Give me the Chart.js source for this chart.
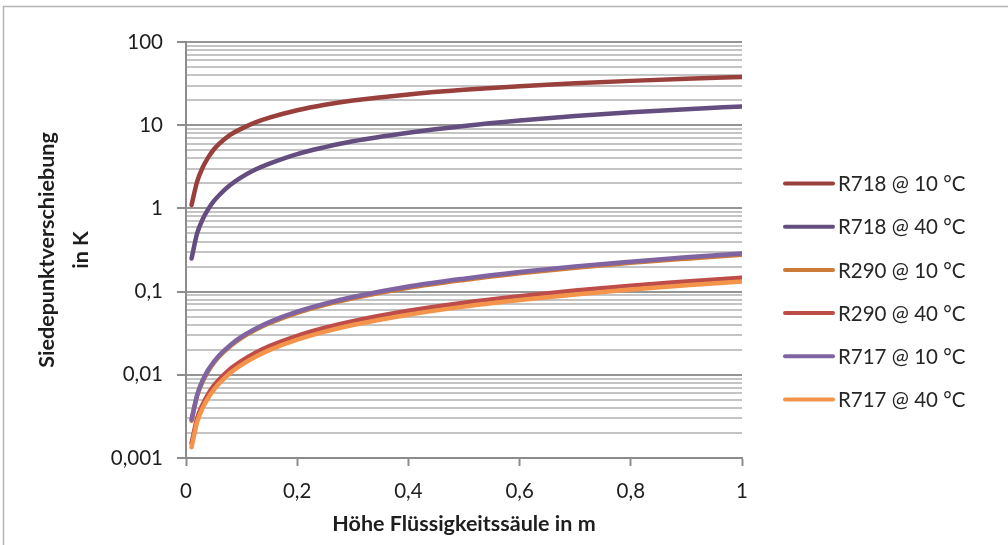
<!DOCTYPE html>
<html>
<head>
<meta charset="utf-8">
<script src="https://cdn.jsdelivr.net/npm/chart.js@4/dist/chart.umd.min.js"></script>
<style>
  html, body { margin: 0; padding: 0; background: #ffffff; }
  #wrap { width: 1008px; height: 545px; position: relative; }
</style>
</head>
<body>
<div id="wrap"><canvas id="c" width="1008" height="545"></canvas></div>
<script>
// ---- data ----
const heights = [0.01, 0.02, 0.03, 0.04, 0.05, 0.06, 0.08, 0.1, 0.125, 0.15, 0.2, 0.25, 0.3, 0.4, 0.5, 0.6, 0.7, 0.8, 0.9, 1.0];

const r718_10 = [1.1, 2.1, 3.1, 4.1, 5.1, 6.0, 7.7, 9.1, 10.8, 12.3, 15.1, 17.6, 19.8, 23.4, 26.6, 29.4, 31.9, 34.1, 36.1, 38.0];
const r718_40 = [0.25, 0.5, 0.74, 0.98, 1.22, 1.45, 1.92, 2.38, 2.93, 3.45, 4.5, 5.45, 6.4, 8.1, 9.8, 11.4, 12.9, 14.3, 15.6, 16.8];
const r290_10 = [0.0028, 0.0056, 0.0083, 0.0111, 0.0139, 0.0167, 0.0222, 0.0278, 0.0347, 0.0416, 0.0555, 0.0693, 0.0831, 0.111, 0.138, 0.166, 0.194, 0.222, 0.249, 0.277];
const r290_40 = [0.0015, 0.0030, 0.0044, 0.0059, 0.0074, 0.0088, 0.0118, 0.0147, 0.0184, 0.0221, 0.0294, 0.0368, 0.0441, 0.0588, 0.0735, 0.0882, 0.103, 0.118, 0.132, 0.147];
const r717_10 = [0.0029, 0.0057, 0.0086, 0.0115, 0.0143, 0.0172, 0.0229, 0.0287, 0.0358, 0.0430, 0.0573, 0.0716, 0.0860, 0.115, 0.143, 0.172, 0.201, 0.229, 0.258, 0.288];
const r717_40 = [0.00135, 0.0027, 0.0040, 0.0053, 0.0066, 0.0079, 0.0106, 0.0132, 0.0165, 0.0198, 0.0264, 0.0330, 0.0396, 0.0528, 0.0660, 0.0792, 0.0924, 0.106, 0.119, 0.132];

const seriesLabels = ["R718 @ 10 °C", "R718 @ 40 °C", "R290 @ 10 °C", "R290 @ 40 °C", "R717 @ 10 °C", "R717 @ 40 °C"];
const seriesValues = [r718_10, r718_40, r290_10, r290_40, r717_10, r717_40];
const seriesColors = ["#9a403c", "#644e80", "#cc7b39", "#be4c49", "#8064a2", "#f3944a"];

const xTicks = [0, 0.2, 0.4, 0.6, 0.8, 1];
const yDecades = [0.001, 0.01, 0.1, 1, 10, 100];
const yDecadeLabels = ["0,001", "0,01", "0,1", "1", "10", "100"];

const xTitle = "Höhe Flüssigkeitssäule in m";
const yTitle = ["Siedepunktverschiebung", "in K"];

// ---- chart ----
const FONT = "Lato, 'Open Sans', sans-serif";
const LABEL_SIZE = 20.5;
const TITLE_SIZE = 21.5;

function isDecade(v) {
  const l = Math.log10(v);
  return Math.abs(l - Math.round(l)) < 1e-9;
}

const datasets = seriesLabels.map((label, i) => ({
  label: label,
  data: heights.map((h, j) => ({ x: h, y: seriesValues[i][j] })),
  borderColor: seriesColors[i],
  backgroundColor: seriesColors[i],
  borderWidth: 4.5,
  borderCapStyle: 'round',
  borderJoinStyle: 'round',
  pointRadius: 0,
  pointHoverRadius: 0,
  cubicInterpolationMode: 'monotone',
  fill: false,
  order: seriesLabels.length - i
}));

const frameAndLegend = {
  id: 'frameAndLegend',
  beforeDraw(chart) {
    const ctx = chart.ctx;
    ctx.save();
    ctx.fillStyle = '#ffffff';
    ctx.fillRect(0, 0, chart.width, chart.height);
    ctx.strokeStyle = '#b4b4b4';
    ctx.lineWidth = 1.5;
    ctx.beginPath();
    ctx.moveTo(3.5, chart.height);
    ctx.lineTo(3.5, 6.5);
    ctx.lineTo(chart.width, 6.5);
    ctx.stroke();
    ctx.restore();
  },
  afterDraw(chart) {
    const ctx = chart.ctx;
    ctx.save();
    const x0 = 785, x1 = 833, tx = 838;
    const y0 = 183.5, dy = 43.2;
    chart.data.datasets.forEach((ds, i) => {
      const y = y0 + i * dy;
      ctx.strokeStyle = ds.borderColor;
      ctx.lineWidth = 4;
      ctx.lineCap = 'round';
      ctx.beginPath();
      ctx.moveTo(x0, y);
      ctx.lineTo(x1, y);
      ctx.stroke();
      ctx.fillStyle = '#262626';
      ctx.font = LABEL_SIZE + "px " + FONT;
      ctx.textAlign = 'left';
      ctx.textBaseline = 'middle';
      ctx.fillText(ds.label, tx, y + 1);
    });
    ctx.restore();
  }
};

new Chart(document.getElementById('c'), {
  type: 'line',
  data: { datasets: datasets },
  options: {
    responsive: false,
    animation: false,
    devicePixelRatio: 1,
    layout: { padding: { left: 0, top: 42, right: 1008 - 742, bottom: 0 } },
    plugins: {
      legend: { display: false },
      tooltip: { enabled: false }
    },
    scales: {
      x: {
        type: 'linear',
        min: 0,
        max: 1,
        afterBuildTicks(scale) { scale.ticks = xTicks.map(v => ({ value: v })); },
        afterFit(scale) { scale.height = 545 - 458; },
        ticks: {
          callback: (v) => String(v).replace('.', ','),
          color: '#1e1e1e',
          font: { family: FONT, size: LABEL_SIZE },
          padding: 13,
          maxRotation: 0,
          autoSkip: false
        },
        grid: {
          drawOnChartArea: false,
          drawTicks: true,
          tickLength: 8,
          tickColor: '#8c8c8c',
          tickWidth: 2
        },
        border: { display: true, color: '#8c8c8c', width: 2 },
        title: {
          display: true,
          text: xTitle,
          color: '#1e1e1e',
          font: { family: FONT, size: TITLE_SIZE, weight: 'bold', lineHeight: 1.2 },
          padding: { top: 0, bottom: 8 }
        }
      },
      y: {
        type: 'logarithmic',
        min: 0.001,
        max: 100,
        afterBuildTicks(scale) {
          const t = [];
          for (let e = -3; e <= 2; e++) {
            for (let m = 1; m <= 9; m++) {
              const v = m * Math.pow(10, e);
              if (v > 100.0001) break;
              t.push({ value: parseFloat(v.toPrecision(6)) });
            }
          }
          scale.ticks = t;
        },
        afterFit(scale) { scale.width = 186; },
        ticks: {
          autoSkip: false,
          callback: (v) => {
            const k = yDecades.findIndex(d => Math.abs(d - v) / d < 1e-6);
            return k >= 0 ? yDecadeLabels[k] : '';
          },
          color: '#1e1e1e',
          font: { family: FONT, size: LABEL_SIZE },
          padding: 14
        },
        grid: {
          drawOnChartArea: true,
          drawTicks: true,
          tickLength: 9,
          lineWidth: 2,
          color: (ctx) => (ctx.tick && isDecade(ctx.tick.value)) ? '#959595' : '#c4c4c4',
          tickColor: (ctx) => (ctx.tick && isDecade(ctx.tick.value)) ? '#8c8c8c' : 'rgba(0,0,0,0)',
          tickWidth: 2
        },
        border: { display: true, color: '#8c8c8c', width: 2 },
        title: {
          display: true,
          text: yTitle,
          color: '#1e1e1e',
          font: { family: FONT, size: TITLE_SIZE, weight: 'bold', lineHeight: 34 / TITLE_SIZE },
          padding: { top: 30, bottom: 0 }
        }
      }
    }
  },
  plugins: [frameAndLegend]
});
</script>
</body>
</html>
